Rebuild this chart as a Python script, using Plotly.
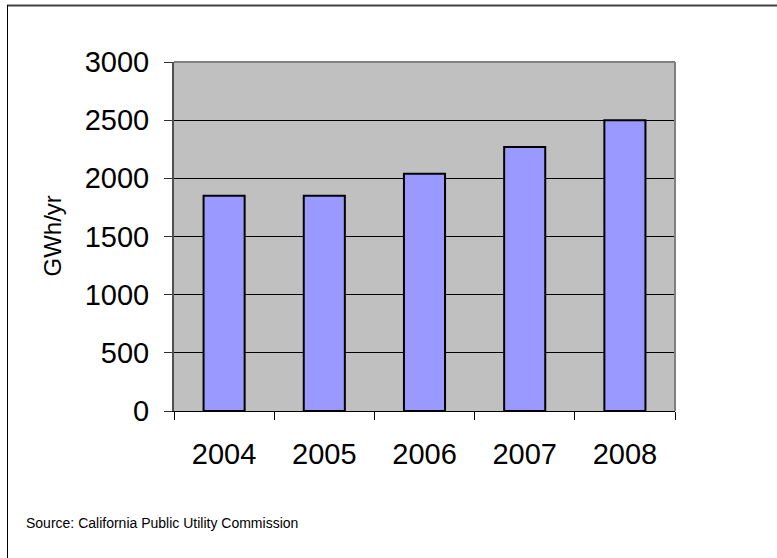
import plotly.graph_objects as go

years = ["2004", "2005", "2006", "2007", "2008"]
gwh = [1850, 1850, 2040, 2270, 2500]
y_ticks = [0, 500, 1000, 1500, 2000, 2500, 3000]

W, H = 777, 558
L, R, T, B = 174, 675, 62, 411  # plot area in pixels


def px(x):
    return (x - L) / (R - L)


def py(y):
    return (B - y) / (B - T)


fig = go.Figure(go.Bar(
    x=years, y=gwh,
    marker=dict(color="#9999FF", line=dict(color="black", width=2)),
))

fig.update_layout(
    width=W, height=H,
    margin=dict(l=L, r=W - R, t=T, b=H - B, pad=0),
    paper_bgcolor="white",
    plot_bgcolor="#C0C0C0",
    bargap=0.59,
    showlegend=False,
    font=dict(family="Liberation Sans, Arial, sans-serif", color="black"),
    xaxis=dict(
        type="category",
        showgrid=False,
        showline=True, linecolor="black", linewidth=1,
        ticks="outside", tickson="boundaries", ticklen=8, tickcolor="black", tickwidth=1,
        tickfont=dict(size=29),
        ticklabelstandoff=17,
    ),
    yaxis=dict(
        range=[0, 3000],
        tickvals=y_ticks,
        ticktext=[str(v) for v in y_ticks],
        showgrid=True, gridcolor="black", gridwidth=1,
        showline=True, linecolor="#505050", linewidth=2,
        ticks="outside", ticklen=8, tickcolor="#303030", tickwidth=1,
        tickfont=dict(size=29),
        ticklabelstandoff=9,
        zeroline=False,
    ),
    shapes=[
        # plot area border (top / right)
        dict(type="line", xref="paper", yref="paper", x0=0, x1=1, y0=1, y1=1,
             line=dict(color="#808080", width=2)),
        dict(type="line", xref="paper", yref="paper", x0=1, x1=1, y0=0, y1=1,
             line=dict(color="#808080", width=2)),
        # outer frame (top and left visible)
        dict(type="line", xref="paper", yref="paper", x0=px(7), x1=px(780), y0=py(5.5), y1=py(5.5),
             line=dict(color="#404040", width=2)),
        dict(type="line", xref="paper", yref="paper", x0=px(7.5), x1=px(7.5), y0=py(5), y1=py(560),
             line=dict(color="black", width=1)),
    ],
    annotations=[
        dict(text="GWh/yr", xref="paper", yref="paper", x=px(52), y=0.5,
             textangle=-90, showarrow=False, font=dict(size=24),
             xanchor="center", yanchor="middle"),
        dict(text="Source: California Public Utility Commission",
             xref="paper", yref="paper", x=px(24), y=py(523),
             xanchor="left", yanchor="middle", showarrow=False,
             font=dict(size=14, family="Liberation Sans, Arial")),
    ],
)

fig.write_html("out.html")
